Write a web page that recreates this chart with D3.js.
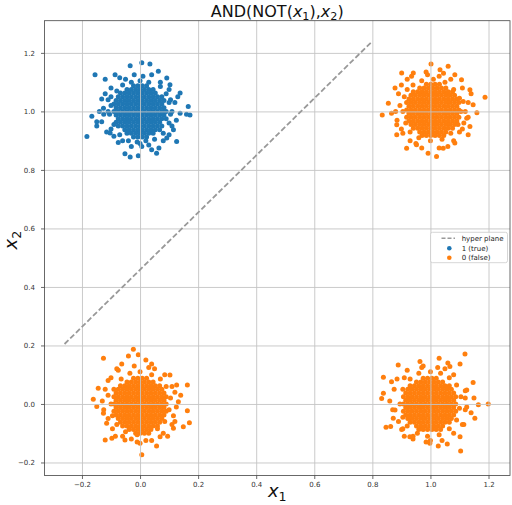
<!DOCTYPE html>
<html>
<head>
<meta charset="utf-8">
<script src="https://cdn.jsdelivr.net/npm/d3@7"></script>
<style>
  body { margin: 0; background: #fff; }
  svg { display: block; font-family: 'DejaVu Sans', sans-serif; }
</style>
</head>
<body>
<div class="chart"></div>
<script>
var xTicks = [-0.2, 0, 0.2, 0.4, 0.6, 0.8, 1.0, 1.2];
var yTicks = [-0.2, 0, 0.2, 0.4, 0.6, 0.8, 1.0, 1.2];
var xTickLabels = ['\u22120.2', '0.0', '0.2', '0.4', '0.6', '0.8', '1.0', '1.2'];
var yTickLabels = ['\u22120.2', '0.0', '0.2', '0.4', '0.6', '0.8', '1.0', '1.2'];
var legendLabels = ['hyper plane', '1 (true)', '0 (false)'];

// hyper plane end points [x1, x2]
var hyperPlane = [[-0.26, 0.205], [0.80, 1.24]];

// dense cores, one row per line: [x2, x1, x1, ...]
var blueCoreRows = [
  [1.0875, -0.0225, -0.0075, 0.0075, 0.0225],
  [1.075, -0.045, -0.03, -0.015, 0, 0.015, 0.03, 0.045],
  [1.0625, -0.0675, -0.0525, -0.0375, -0.0225, -0.0075, 0.0075, 0.0225, 0.0375, 0.0525],
  [1.05, -0.075, -0.06, -0.045, -0.03, -0.015, 0, 0.015, 0.03, 0.045, 0.06, 0.075],
  [1.0375, -0.0825, -0.0675, -0.0525, -0.0375, -0.0225, -0.0075, 0.0075, 0.0225, 0.0375, 0.0525, 0.0675, 0.0825],
  [1.025, -0.09, -0.075, -0.06, -0.045, -0.03, -0.015, 0, 0.015, 0.03, 0.045, 0.06, 0.075],
  [1.0125, -0.0825, -0.0675, -0.0525, -0.0375, -0.0225, -0.0075, 0.0075, 0.0225, 0.0375, 0.0525, 0.0675, 0.0825],
  [1.0, -0.09, -0.075, -0.06, -0.045, -0.03, -0.015, 0, 0.015, 0.03, 0.045, 0.06, 0.075, 0.09],
  [0.9875, -0.0825, -0.0675, -0.0525, -0.0375, -0.0225, -0.0075, 0.0075, 0.0225, 0.0375, 0.0525, 0.0675, 0.0825],
  [0.975, -0.075, -0.06, -0.045, -0.03, -0.015, 0, 0.015, 0.03, 0.045, 0.06, 0.075, 0.09],
  [0.9625, -0.0825, -0.0675, -0.0525, -0.0375, -0.0225, -0.0075, 0.0075, 0.0225, 0.0375, 0.0525, 0.0675],
  [0.95, -0.075, -0.06, -0.045, -0.03, -0.015, 0, 0.015, 0.03, 0.045, 0.06, 0.075],
  [0.9375, -0.0525, -0.0375, -0.0225, -0.0075, 0.0075, 0.0225, 0.0375, 0.0525, 0.0675],
  [0.925, -0.045, -0.03, -0.015, 0, 0.015, 0.03, 0.045],
  [0.9125, -0.0225, -0.0075, 0.0075, 0.0225]
];
var blueOuter = [
  [-0.155, 1.125], [-0.183, 0.914], [0.006, 1.166], [0.034, 1.162], [-0.034, 1.156],
  [0.166, 1.017], [0.172, 0.988], [0.16, 0.99], [-0.166, 0.983], [-0.149, 0.965],
  [-0.149, 0.95], [-0.052, 0.855], [-0.034, 0.844], [-0.006, 0.848], [0.057, 0.857],
  [0.092, 0.909], [0.126, 0.897], [0.138, 0.994], [0.138, 1.063], [0.103, 1.091],
  [0.092, 1.114], [0.063, 1.137], [-0.086, 1.125], [-0.12, 1.11], [-0.132, 1.042],
  [-0.126, 1.011], [-0.132, 0.965], [-0.103, 0.926], [-0.075, 0.894], [0.006, 0.88],
  [0.04, 0.869], [0.115, 0.937], [0.105, 1.04],
  [-0.1, 1.05], [-0.1, 1.02], [-0.105, 0.99], [-0.09, 0.955], [-0.07, 0.92],
  [-0.04, 0.9], [-0.01, 0.895], [0.02, 0.9], [0.05, 0.905], [0.08, 0.925],
  [0.1, 0.96], [0.105, 0.99], [0.1, 1.03], [0.09, 1.06], [0.07, 1.085],
  [0.03, 1.1], [0.0, 1.105], [-0.03, 1.1], [-0.06, 1.09], [-0.08, 1.07],
  [0.11, 1.0], [-0.11, 1.0], [0.0, 0.89], [0.01, 1.12], [-0.05, 1.11],
  [0.07, 1.1], [-0.1, 0.94], [0.1, 0.92],
  [-0.12, 1.06], [-0.115, 0.93], [-0.1, 1.08], [-0.07, 1.115], [-0.02, 1.125],
  [0.04, 1.125], [0.1, 1.075], [0.12, 1.03], [0.125, 0.97], [0.11, 0.95],
  [0.08, 0.9], [0.03, 0.885], [-0.03, 0.88], [-0.06, 0.9], [-0.09, 0.915],
  [-0.125, 0.99], [0.13, 1.05], [-0.11, 1.04], [0.065, 0.875], [-0.14, 1.0]
];

var orangeCoreRowsTR = [
  [1.0925, 0.986, 1.001, 1.016, 1.031],
  [1.08, 0.963, 0.978, 0.993, 1.008, 1.023, 1.038, 1.053],
  [1.0675, 0.941, 0.956, 0.971, 0.986, 1.001, 1.016, 1.031, 1.046, 1.061, 1.076],
  [1.055, 0.933, 0.948, 0.963, 0.978, 0.993, 1.008, 1.023, 1.038, 1.053, 1.068, 1.083],
  [1.0425, 0.926, 0.941, 0.956, 0.971, 0.986, 1.001, 1.016, 1.031, 1.046, 1.061, 1.076, 1.091],
  [1.03, 0.918, 0.933, 0.948, 0.963, 0.978, 0.993, 1.008, 1.023, 1.038, 1.053, 1.068, 1.083, 1.098],
  [1.0175, 0.926, 0.941, 0.956, 0.971, 0.986, 1.001, 1.016, 1.031, 1.046, 1.061, 1.076, 1.091],
  [1.005, 0.918, 0.933, 0.948, 0.963, 0.978, 0.993, 1.008, 1.023, 1.038, 1.053, 1.068, 1.083, 1.098],
  [0.9925, 0.926, 0.941, 0.956, 0.971, 0.986, 1.001, 1.016, 1.031, 1.046, 1.061, 1.076, 1.091],
  [0.98, 0.918, 0.933, 0.948, 0.963, 0.978, 0.993, 1.008, 1.023, 1.038, 1.053, 1.068, 1.083, 1.098],
  [0.9675, 0.926, 0.941, 0.956, 0.971, 0.986, 1.001, 1.016, 1.031, 1.046, 1.061, 1.076, 1.091],
  [0.955, 0.933, 0.948, 0.963, 0.978, 0.993, 1.008, 1.023, 1.038, 1.053, 1.068, 1.083],
  [0.9425, 0.941, 0.956, 0.971, 0.986, 1.001, 1.016, 1.031, 1.046, 1.061, 1.076],
  [0.93, 0.963, 0.978, 0.993, 1.008, 1.023, 1.038, 1.053],
  [0.9175, 0.971, 0.986, 1.001, 1.016, 1.031, 1.046]
];
var orangeOuterTR = [
  [1.002, 1.162], [1.033, 1.142], [1.061, 1.154], [0.901, 1.131], [0.941, 1.131],
  [0.878, 1.08], [0.855, 1.028], [0.834, 0.988], [0.866, 0.994], [0.884, 0.954],
  [0.884, 0.92], [0.918, 0.874], [0.952, 0.886], [0.992, 0.857], [1.021, 0.846],
  [1.044, 0.874], [1.084, 0.892], [1.13, 0.92], [1.136, 0.948], [1.147, 1.023],
  [1.188, 1.048], [1.136, 1.074], [1.107, 1.108], [1.084, 1.125], [1.113, 1.034],
  [1.125, 0.977], [1.1, 0.93],
  [0.91, 1.05], [0.905, 1.0], [0.915, 0.96], [0.93, 0.93], [0.96, 0.91],
  [1.0, 0.9], [1.04, 0.905], [1.07, 0.925], [1.095, 0.955], [1.105, 1.0],
  [1.1, 1.045], [1.08, 1.075], [1.05, 1.1], [1.01, 1.11], [0.97, 1.105],
  [0.94, 1.09], [0.92, 1.075], [0.895, 1.02], [0.99, 1.125], [1.03, 1.12],
  [1.12, 1.0], [1.115, 0.96], [0.9, 0.94], [0.95, 0.89], [1.06, 0.88],
  [0.89, 1.06], [0.885, 0.97], [0.9, 1.09], [0.935, 1.12], [0.985, 1.135],
  [1.045, 1.13], [1.11, 1.08], [1.13, 1.03], [1.13, 0.98], [1.11, 0.94],
  [1.08, 0.9], [1.03, 0.875], [0.97, 0.875], [0.93, 0.9], [0.905, 0.925],
  [0.88, 1.0], [1.14, 1.06], [0.92, 1.11], [1.07, 1.11], [1.16, 0.995]
];

var orangeCoreRowsBL = [
  [0.0875, -0.0225, -0.0075, 0.0075, 0.0225],
  [0.075, -0.045, -0.03, -0.015, 0, 0.015, 0.03, 0.045],
  [0.0625, -0.0675, -0.0525, -0.0375, -0.0225, -0.0075, 0.0075, 0.0225, 0.0375, 0.0525, 0.0675],
  [0.05, -0.075, -0.06, -0.045, -0.03, -0.015, 0, 0.015, 0.03, 0.045, 0.06, 0.075],
  [0.0375, -0.0825, -0.0675, -0.0525, -0.0375, -0.0225, -0.0075, 0.0075, 0.0225, 0.0375, 0.0525, 0.0675, 0.0825],
  [0.025, -0.09, -0.075, -0.06, -0.045, -0.03, -0.015, 0, 0.015, 0.03, 0.045, 0.06, 0.075, 0.09],
  [0.0125, -0.0825, -0.0675, -0.0525, -0.0375, -0.0225, -0.0075, 0.0075, 0.0225, 0.0375, 0.0525, 0.0675, 0.0825],
  [0, -0.09, -0.075, -0.06, -0.045, -0.03, -0.015, 0, 0.015, 0.03, 0.045, 0.06, 0.075, 0.09],
  [-0.0125, -0.0825, -0.0675, -0.0525, -0.0375, -0.0225, -0.0075, 0.0075, 0.0225, 0.0375, 0.0525, 0.0675, 0.0825],
  [-0.025, -0.09, -0.075, -0.06, -0.045, -0.03, -0.015, 0, 0.015, 0.03, 0.045, 0.06, 0.075, 0.09],
  [-0.0375, -0.0825, -0.0675, -0.0525, -0.0375, -0.0225, -0.0075, 0.0075, 0.0225, 0.0375, 0.0525, 0.0675, 0.0825],
  [-0.05, -0.075, -0.06, -0.045, -0.03, -0.015, 0, 0.015, 0.03, 0.045, 0.06, 0.075],
  [-0.0625, -0.0675, -0.0525, -0.0375, -0.0225, -0.0075, 0.0075, 0.0225, 0.0375, 0.0525, 0.0675],
  [-0.075, -0.06, -0.045, -0.03, -0.015, 0, 0.015, 0.03, 0.045, 0.06],
  [-0.0875, -0.0375, -0.0225, -0.0075, 0.0075, 0.0225, 0.0375],
  [-0.1, -0.015, 0, 0.015]
];
var orangeOuterBL = [
  [-0.023, 0.187], [-0.006, 0.168], [-0.04, 0.164], [-0.126, 0.156], [-0.063, 0.137],
  [0.04, 0.137], [0.103, 0.099], [0.163, 0.065], [0.126, 0.065], [-0.144, 0.054],
  [-0.161, 0.016], [-0.149, -0.009], [-0.126, -0.032], [-0.115, -0.066], [-0.12, -0.123],
  [-0.097, -0.117], [-0.052, -0.123], [0.0, -0.134], [0.006, -0.174], [0.057, -0.144],
  [0.115, -0.083], [0.149, -0.078], [0.163, -0.023], [0.17, -0.064], [0.132, 0.008],
  [0.12, -0.06], [0.069, -0.112], [-0.08, 0.12],
  [-0.09, 0.05], [-0.1, 0.0], [-0.095, -0.04], [-0.08, -0.07], [-0.05, -0.095],
  [-0.01, -0.105], [0.03, -0.1], [0.06, -0.085], [0.085, -0.06], [0.1, -0.02],
  [0.105, 0.02], [0.09, 0.06], [0.07, 0.085], [0.04, 0.1], [0.0, 0.11],
  [-0.035, 0.105], [-0.065, 0.085], [-0.11, 0.03], [0.115, -0.04], [-0.11, -0.05],
  [0.02, -0.125], [-0.03, -0.12], [0.05, 0.12], [0.11, 0.06], [-0.1, 0.09],
  [-0.12, 0.05], [-0.125, -0.02], [-0.11, 0.08], [-0.075, 0.115], [-0.02, 0.13],
  [0.03, 0.125], [0.085, 0.1], [0.12, 0.04], [0.125, -0.01], [0.11, -0.07],
  [0.08, -0.1], [0.04, -0.125], [-0.01, -0.13], [-0.06, -0.11], [-0.095, -0.085],
  [-0.13, 0.01], [0.14, 0.03], [-0.085, -0.11], [0.095, -0.11], [0.02, 0.15]
];

var orangeCoreRowsBR = [
  [0.0875, 0.975, 0.99, 1.005, 1.02],
  [0.075, 0.952, 0.967, 0.982, 0.997, 1.012, 1.027, 1.042],
  [0.0625, 0.93, 0.945, 0.96, 0.975, 0.99, 1.005, 1.02, 1.035, 1.05, 1.065],
  [0.05, 0.922, 0.937, 0.952, 0.967, 0.982, 0.997, 1.012, 1.027, 1.042, 1.057, 1.072],
  [0.0375, 0.915, 0.93, 0.945, 0.96, 0.975, 0.99, 1.005, 1.02, 1.035, 1.05, 1.065, 1.08],
  [0.025, 0.907, 0.922, 0.937, 0.952, 0.967, 0.982, 0.997, 1.012, 1.027, 1.042, 1.057, 1.072, 1.087],
  [0.0125, 0.915, 0.93, 0.945, 0.96, 0.975, 0.99, 1.005, 1.02, 1.035, 1.05, 1.065, 1.08],
  [0, 0.907, 0.922, 0.937, 0.952, 0.967, 0.982, 0.997, 1.012, 1.027, 1.042, 1.057, 1.072, 1.087],
  [-0.0125, 0.915, 0.93, 0.945, 0.96, 0.975, 0.99, 1.005, 1.02, 1.035, 1.05, 1.065, 1.08],
  [-0.025, 0.907, 0.922, 0.937, 0.952, 0.967, 0.982, 0.997, 1.012, 1.027, 1.042, 1.057, 1.072, 1.087],
  [-0.0375, 0.915, 0.93, 0.945, 0.96, 0.975, 0.99, 1.005, 1.02, 1.035, 1.05, 1.065, 1.08],
  [-0.05, 0.922, 0.937, 0.952, 0.967, 0.982, 0.997, 1.012, 1.027, 1.042, 1.057, 1.072],
  [-0.0625, 0.93, 0.945, 0.96, 0.975, 0.99, 1.005, 1.02, 1.035, 1.05, 1.065],
  [-0.075, 0.952, 0.967, 0.982, 0.997, 1.012, 1.027, 1.042],
  [-0.0875, 0.96, 0.975, 0.99, 1.005, 1.02, 1.035]
];
var orangeOuterBR = [
  [1.119, 0.171], [1.102, 0.137], [1.03, 0.156], [0.964, 0.145], [0.889, 0.133],
  [0.838, 0.091], [0.866, 0.076], [0.838, 0.037], [0.832, 0.019], [0.878, -0.021],
  [0.872, -0.049], [0.847, -0.08], [0.863, -0.077], [0.901, -0.087], [0.929, -0.112],
  [0.998, -0.134], [1.027, -0.144], [1.058, -0.137], [1.104, -0.161], [1.102, -0.112],
  [1.153, -0.049], [1.165, -0.003], [1.199, 0.0], [1.147, 0.073], [1.125, 0.048],
  [1.067, 0.128], [1.12, -0.02],
  [0.905, 0.05], [0.895, 0.0], [0.905, -0.045], [0.92, -0.075], [0.955, -0.1],
  [0.99, -0.11], [1.03, -0.105], [1.065, -0.085], [1.09, -0.055], [1.1, -0.015],
  [1.105, 0.025], [1.09, 0.065], [1.065, 0.09], [1.035, 0.105], [1.0, 0.11],
  [0.96, 0.105], [0.93, 0.085], [0.91, 0.09], [0.89, -0.06], [1.12, 0.02],
  [1.0, -0.125], [0.94, -0.12], [1.05, 0.12], [0.97, 0.125], [1.115, -0.07],
  [0.875, 0.05], [0.87, -0.02], [0.885, 0.085], [0.92, 0.115], [0.975, 0.13],
  [1.025, 0.125], [1.08, 0.1], [1.12, 0.045], [1.125, -0.01], [1.11, -0.07],
  [1.08, -0.1], [1.04, -0.125], [0.985, -0.13], [0.94, -0.11], [0.905, -0.085],
  [0.86, 0.01], [1.14, -0.03], [0.91, -0.11], [1.06, 0.14], [1.15, 0.02]
];

function fromRows(rows) {
  return rows.flatMap(r => r.slice(1).map(x => [x, r[0]]));
}
var bluePoints = fromRows(blueCoreRows).concat(blueOuter);
var orangePoints = fromRows(orangeCoreRowsTR).concat(orangeOuterTR,
  fromRows(orangeCoreRowsBL), orangeOuterBL,
  fromRows(orangeCoreRowsBR), orangeOuterBR);

var blueColor = '#1f77b4', orangeColor = '#ff7f0e';

var margin = { top: 20.7, right: 2, bottom: 29.5, left: 44.5 };
var width = 512 - margin.left - margin.right;
var height = 505 - margin.top - margin.bottom;

var root = d3.select('.chart')
  .append('svg')
  .attr('width', 512)
  .attr('height', 505);

var svg = root.append('g')
  .attr('transform', `translate(${margin.left}, ${margin.top})`);

var xScale = d3.scaleLinear().domain([-0.329, 1.274]).range([0, width]);
var yScale = d3.scaleLinear().domain([-0.2445, 1.31]).range([height, 0]);

// points (grid sits on top of them, like matplotlib)
svg.append('g').selectAll('circle')
  .data(bluePoints)
  .join('circle')
  .attr('cx', d => xScale(d[0]))
  .attr('cy', d => yScale(d[1]))
  .attr('r', 2.5)
  .attr('fill', blueColor);

svg.append('g').selectAll('circle')
  .data(orangePoints)
  .join('circle')
  .attr('cx', d => xScale(d[0]))
  .attr('cy', d => yScale(d[1]))
  .attr('r', 2.5)
  .attr('fill', orangeColor);

// grid
svg.append('g')
  .call(d3.axisBottom(xScale).tickValues(xTicks).tickSize(height).tickFormat(''))
  .call(g => g.select('.domain').remove())
  .call(g => g.selectAll('line').attr('stroke', '#c4c4c4').attr('stroke-width', 0.9));
svg.append('g')
  .attr('transform', `translate(${width}, 0)`)
  .call(d3.axisLeft(yScale).tickValues(yTicks).tickSize(width).tickFormat(''))
  .call(g => g.select('.domain').remove())
  .call(g => g.selectAll('line').attr('stroke', '#c4c4c4').attr('stroke-width', 0.9));

// hyper plane
svg.append('path')
  .datum(hyperPlane)
  .attr('d', d3.line().x(d => xScale(d[0])).y(d => yScale(d[1])))
  .attr('fill', 'none')
  .attr('stroke', '#999')
  .attr('stroke-width', 1.8)
  .attr('stroke-dasharray', '5.5,2.5');

// axes
var xAxis = svg.append('g')
  .attr('transform', `translate(0, ${height})`)
  .call(d3.axisBottom(xScale).tickValues(xTicks)
    .tickFormat((d, i) => xTickLabels[i]).tickSize(3.5).tickPadding(3));
var yAxis = svg.append('g')
  .call(d3.axisLeft(yScale).tickValues(yTicks)
    .tickFormat((d, i) => yTickLabels[i]).tickSize(3.5).tickPadding(6));
[xAxis, yAxis].forEach(function (g) {
  g.select('.domain').remove();
  g.selectAll('line').attr('stroke', '#444').attr('stroke-width', 0.8);
  g.selectAll('text').attr('fill', '#333').style('font-size', '7px')
    .style('font-family', "'DejaVu Sans', sans-serif");
});

// spines
svg.append('rect')
  .attr('width', width)
  .attr('height', height)
  .attr('fill', 'none')
  .attr('stroke', '#444')
  .attr('stroke-width', 0.8);

// title and axis labels
function mathLabel(sel, parts, size) {
  parts.forEach(function (p) {
    if (p.sub) {
      sel.append('tspan').text(p.t).style('font-size', (size * 0.7) + 'px').attr('dy', size * 0.22);
    } else {
      var t = sel.append('tspan').text(p.t);
      if (p.reset) t.attr('dy', -size * 0.22);
      if (p.it) t.style('font-style', 'italic');
    }
  });
}

var title = root.append('text')
  .attr('x', margin.left + width / 2)
  .attr('y', 16.5)
  .attr('text-anchor', 'middle')
  .style('font-size', '16px')
  .attr('fill', '#111');
mathLabel(title, [
  { t: 'AND(NOT(' }, { t: 'x', it: true }, { t: '1', sub: true },
  { t: '),', reset: true }, { t: 'x', it: true }, { t: '2', sub: true },
  { t: ')', reset: true }
], 16);

var xLabel = root.append('text')
  .attr('x', margin.left + width / 2)
  .attr('y', 497)
  .attr('text-anchor', 'middle')
  .style('font-size', '18px')
  .attr('fill', '#111');
mathLabel(xLabel, [{ t: 'x', it: true }, { t: '1', sub: true }], 18);

var yLabel = root.append('text')
  .attr('transform', `translate(17, ${margin.top + height / 2 - 8}) rotate(-90)`)
  .attr('text-anchor', 'middle')
  .style('font-size', '18px')
  .attr('fill', '#111');
mathLabel(yLabel, [{ t: 'x', it: true }, { t: '2', sub: true }], 18);

// legend
var legend = root.append('g').attr('transform', 'translate(430.5, 232.3)');
legend.append('rect')
  .attr('width', 77)
  .attr('height', 30.4)
  .attr('rx', 2)
  .attr('fill', '#fff')
  .attr('fill-opacity', 0.8)
  .attr('stroke', '#ccc')
  .attr('stroke-width', 0.8);
legend.append('line')
  .attr('x1', 11).attr('x2', 24.5)
  .attr('y1', 6).attr('y2', 6)
  .attr('stroke', '#999')
  .attr('stroke-width', 1.6)
  .attr('stroke-dasharray', '4,2');
[blueColor, orangeColor].forEach(function (c, i) {
  legend.append('circle')
    .attr('cx', 18.8)
    .attr('cy', 16 + i * 9.5)
    .attr('r', 2.3)
    .attr('fill', c);
});
legend.selectAll('text.lbl')
  .data(legendLabels)
  .join('text')
  .attr('class', 'lbl')
  .attr('x', 31.2)
  .attr('y', (d, i) => 6 + i * 9.8)
  .attr('dy', '0.35em')
  .style('font-size', '7px')
  .attr('fill', '#222')
  .text(d => d);
</script>
</body>
</html>
